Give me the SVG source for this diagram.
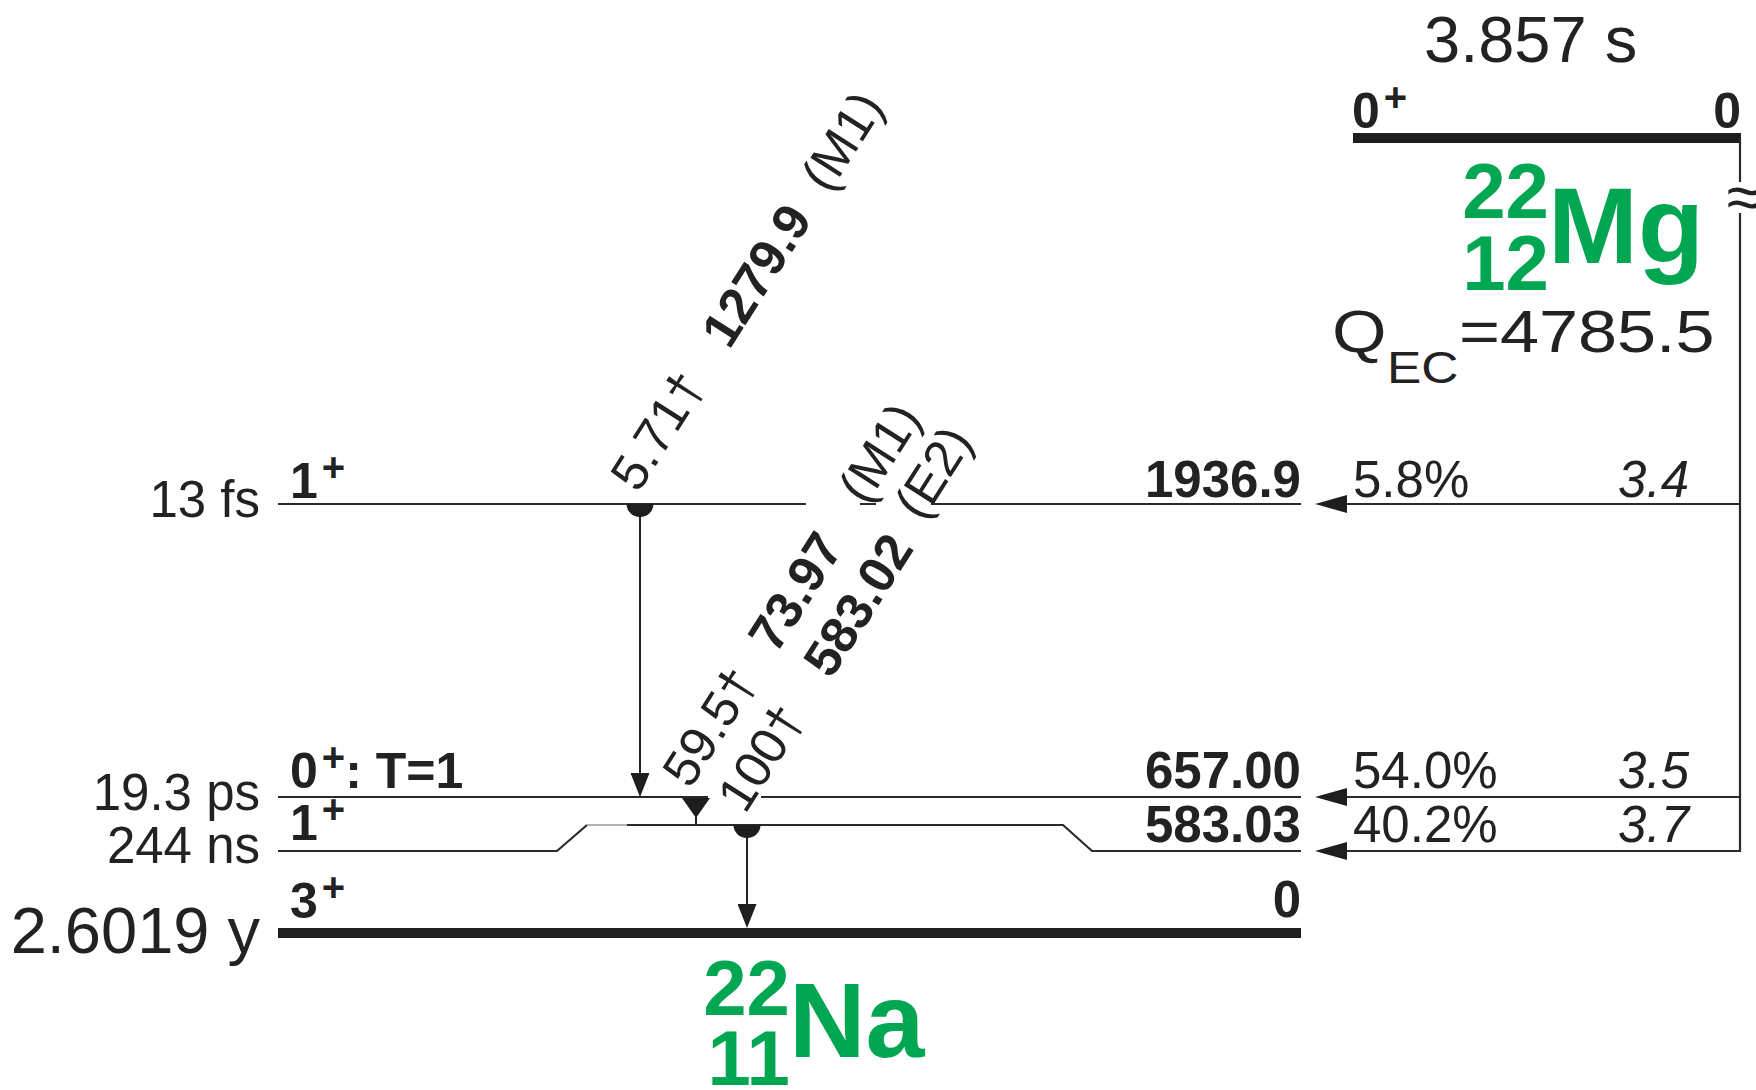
<svg xmlns="http://www.w3.org/2000/svg" width="1756" height="1090" viewBox="0 0 1756 1090">
<style>
.t{font-family:"Liberation Sans",Arial,Helvetica,sans-serif;fill:#222;font-size:51px}
.b{font-weight:bold}
.i{font-style:italic}
.sp{font-weight:bold;font-size:50px}
.big{font-size:65px}
.end{text-anchor:end}
.g{fill:#00a651;font-weight:bold}
.num{font-size:78px}
.sym{font-size:108px}
.q{font-size:60px}
.qs{font-size:44px}
.apx{font-size:64px;text-anchor:middle}
.lv{stroke:#2a2a2a;stroke-width:2.2;fill:none}
.lt{stroke:#999;stroke-width:1.6;fill:none}
.thick{stroke:#1e1e1e;stroke-width:10;fill:none}
.ar{stroke:#222;stroke-width:2;fill:none}
.hd{fill:#1e1e1e}
</style>
<defs>
<marker id="feed" viewBox="0 0 32 18" refX="27" refY="9" markerWidth="32" markerHeight="18" markerUnits="userSpaceOnUse" orient="auto">
<path d="M0,0 L32,9 L0,18 Z" fill="#1e1e1e"/>
</marker>
<marker id="gam" viewBox="0 0 24 19" refX="20" refY="9.5" markerWidth="24" markerHeight="19" markerUnits="userSpaceOnUse" orient="auto">
<path d="M0,0 L24,9.5 L0,19 Z" fill="#1e1e1e"/>
</marker>
<path id="half" d="M-13.5,0 A13.5,13 0 0 0 13.5,0 Z"/>
</defs>

<g id="parent-22Mg">
<text class="t big" x="1424" y="62">3.857 s</text>
<line class="thick" x1="1353" y1="138" x2="1741" y2="138"/>
<text class="t sp" x="1352" y="128">0<tspan font-size="40" dx="4" dy="-17">+</tspan></text>
<text class="t sp end" x="1741" y="128">0</text>
<text class="t g num end" x="1549" y="218">22</text>
<text class="t g num end" x="1549" y="290">12</text>
<text class="t g sym" x="1548" y="263">Mg</text>
<g transform="translate(1332 0) scale(1.17 1)">
<text class="t q" x="0" y="352">Q</text>
<text class="t qs" x="47" y="383">EC</text>
<text class="t q" x="108.5" y="352">=4785.5</text>
</g>
</g>

<g id="level-1936">
<path class="lv" d="M278,504 H806 M860,504 H876 M931,504 H1301"/>
<text class="t end" x="260" y="517">13 fs</text>
<text class="t sp" x="290" y="498">1<tspan font-size="40" dx="4" dy="-17">+</tspan></text>
<text class="t b end" x="1301" y="497">1936.9</text>
<text class="t" x="1353" y="497">5.8%</text>
<text class="t i end" x="1689" y="497">3.4</text>
</g>

<g id="level-657">
<path class="lv" d="M278,797 H708 M761,797 H1301"/>
<text class="t end" x="260" y="810">19.3 ps</text>
<text class="t sp" x="290" y="788">0<tspan font-size="40" dx="4" dy="-17">+</tspan><tspan dy="17">: T=1</tspan></text>
<text class="t b end" x="1301" y="788">657.00</text>
<text class="t" x="1353" y="788">54.0%</text>
<text class="t i end" x="1689" y="788">3.5</text>
</g>

<g id="level-583">
<path class="lv" d="M278,851 H557 L587,825 M627,825 H1063 L1092,851 H1301"/>
<path class="lt" d="M587,825 H627"/>
<text class="t end" x="260" y="863">244 ns</text>
<text class="t sp" x="290" y="840">1<tspan font-size="40" dx="4" dy="-17">+</tspan></text>
<text class="t b end" x="1301" y="842">583.03</text>
<text class="t" x="1353" y="842">40.2%</text>
<text class="t i end" x="1689" y="842">3.7</text>
</g>

<g id="level-0">
<line class="thick" x1="278" y1="933" x2="1301" y2="933"/>
<text class="t big end" x="260" y="953">2.6019 y</text>
<text class="t sp" x="290" y="918">3<tspan font-size="40" dx="4" dy="-17">+</tspan></text>
<text class="t b end" x="1301" y="917">0</text>
<text class="t g num end" x="790" y="1015">22</text>
<text class="t g num end" x="790" y="1085">11</text>
<text class="t g" style="font-size:106px" x="789" y="1057">Na</text>
</g>

<g id="connectors">
<path class="lv" d="M1740,138 V182"/>
<text class="t apx" x="1744" y="219">≈</text>
<path class="lv" d="M1740,213 V851 H1320" marker-end="url(#feed)"/>
<line class="lv" x1="1740" y1="504" x2="1320" y2="504" marker-end="url(#feed)"/>
<line class="lv" x1="1740" y1="797" x2="1320" y2="797" marker-end="url(#feed)"/>

<line class="ar" x1="640" y1="504" x2="640" y2="793" marker-end="url(#gam)"/>
<use href="#half" x="640" y="504" class="hd"/>
<g transform="translate(638 494) rotate(-57.5)">
<text class="t" x="0" y="0">5.71†</text>
<text class="t b" x="170" y="0">1279.9</text>
<text class="t" x="355" y="0">(M1)</text>
</g>

<line class="ar" x1="696" y1="797" x2="696" y2="825"/>
<polygon class="hd" points="682,798 710,798 696,818"/>
<g transform="translate(690 790) rotate(-57.5)">
<text class="t" x="0" y="0">59.5†</text>
<text class="t b" x="160" y="0">73.97</text>
<text class="t" x="334" y="-4">(M1)</text>
</g>

<line class="ar" x1="747" y1="825" x2="747" y2="924" marker-end="url(#gam)"/>
<use href="#half" x="747" y="825" class="hd"/>
<g transform="translate(745 815) rotate(-57.5)">
<text class="t" x="0" y="0">100†</text>
<text class="t b" x="160" y="0">583.02</text>
<text class="t" x="342" y="-8">(E2)</text>
</g>
</g>
</svg>
